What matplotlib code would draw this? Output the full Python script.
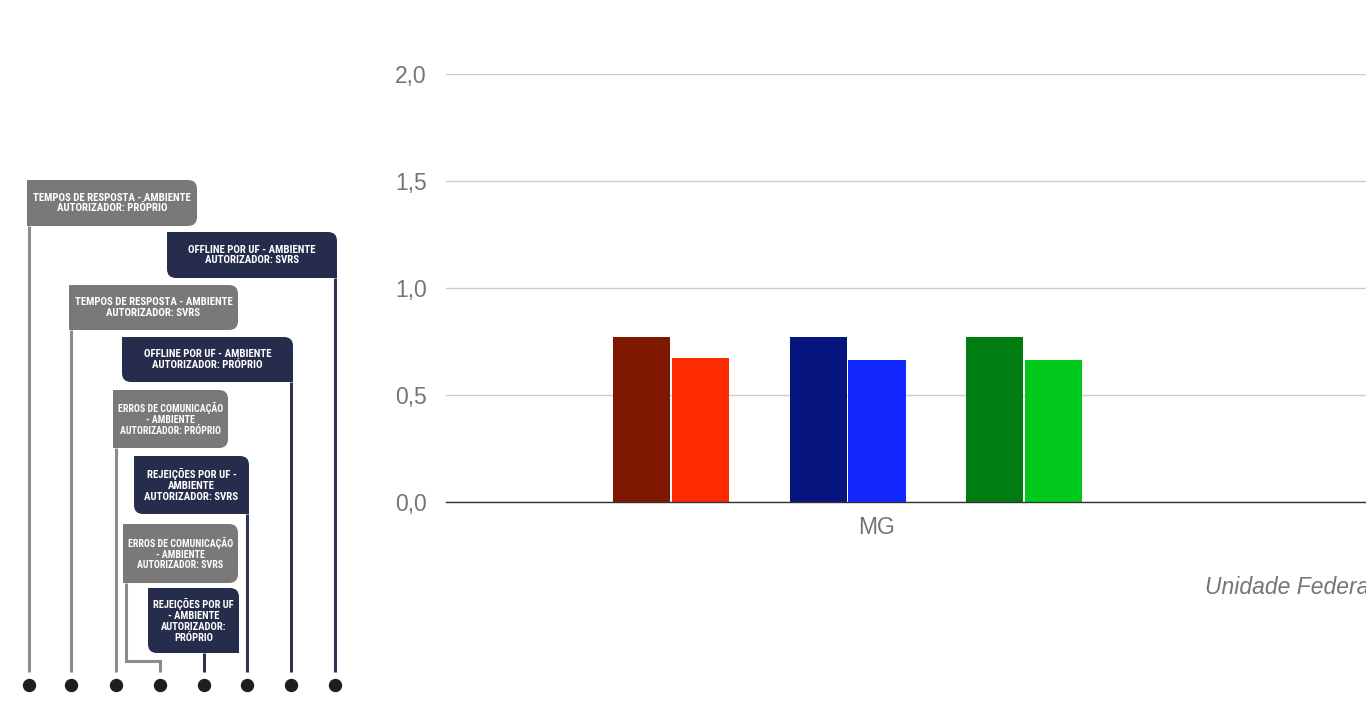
import matplotlib
matplotlib.use('Agg')
import matplotlib.pyplot as plt
from matplotlib.patches import FancyBboxPatch, Rectangle

# data
categories = ['MG']
bar_values = [0.77, 0.675, 0.77, 0.665, 0.77, 0.665]
bar_colors = ['#7f1800', '#ff2b00', '#06147e', '#1228ff', '#007d10', '#00c91b']
y_ticks = [0.0, 0.5, 1.0, 1.5, 2.0]
y_tick_labels = ['0,0', '0,5', '1,0', '1,5', '2,0']
x_title = 'Unidade Federativa'

legend_labels = [
    'TEMPOS DE RESPOSTA - AMBIENTE\nAUTORIZADOR: PRÓPRIO',
    'OFFLINE POR UF - AMBIENTE\nAUTORIZADOR: SVRS',
    'TEMPOS DE RESPOSTA - AMBIENTE\nAUTORIZADOR: SVRS',
    'OFFLINE POR UF - AMBIENTE\nAUTORIZADOR: PRÓPRIO',
    'ERROS DE COMUNICAÇÃO\n- AMBIENTE\nAUTORIZADOR: PRÓPRIO',
    'REJEIÇÕES POR UF -\nAMBIENTE\nAUTORIZADOR: SVRS',
    'ERROS DE COMUNICAÇÃO\n- AMBIENTE\nAUTORIZADOR: SVRS',
    'REJEIÇÕES POR UF\n- AMBIENTE\nAUTORIZADOR:\nPRÓPRIO',
]

# layout (pixels): box x0, x1, y0, y1, line x, dot x, kind
legend_layout = [
    (27, 197, 180, 226, 29, 29, 'g'),
    (167, 337, 232, 278, 335, 335, 'n'),
    (69, 238, 285, 330, 71, 71, 'g'),
    (122, 293, 337, 382, 291, 291, 'n'),
    (113, 228, 390, 448, 116, 116, 'g'),
    (134, 249, 456, 514, 247, 247, 'n'),
    (123, 238, 524, 583, 126, 160, 'g'),
    (148, 239, 588, 653, 204, 204, 'n'),
]
slots = [-4, -3, -1, 0, 2, 3]

W, H = 1366, 716
fig = plt.figure(figsize=(W / 100, H / 100), dpi=100)
gray_txt = '#757575'
fs = 16.5

# bar chart
ax = fig.add_axes([446 / W, (H - 502) / H, (W - 446) / W, 428 / H])
slot_px = 58.8
ax.set_xlim((446 - 877) / slot_px, (W - 877) / slot_px)
ax.set_ylim(0, 2.0)
for s, v, c in zip(slots, bar_values, bar_colors):
    ax.bar(s, v, width=0.97, color=c, zorder=3)
ax.set_yticks(y_ticks)
ax.set_yticklabels(y_tick_labels)
ax.set_xticks([0])
ax.set_xticklabels(categories)
ax.tick_params(axis='y', length=0, pad=13.7, labelsize=fs, labelcolor=gray_txt)
ax.tick_params(axis='x', length=0, pad=10, labelsize=fs, labelcolor=gray_txt)
for t in ax.get_yticklabels() + ax.get_xticklabels():
    t.set_family('Liberation Sans')
ax.grid(axis='y', color='#cccccc', lw=1, zorder=0)
for sp in ['top', 'right', 'left']:
    ax.spines[sp].set_visible(False)
ax.spines['bottom'].set_color('#333333')
ax.spines['bottom'].set_linewidth(1)
ax.spines['bottom'].set_zorder(4)
fig.text(1205 / W, 1 - 587 / H, x_title, fontsize=fs, style='italic',
         color=gray_txt, family='Liberation Sans', va='center', ha='left')

# legend panel in pixel coords
lx = fig.add_axes([0, 0, 1, 1], zorder=5)
lx.set_xlim(0, W)
lx.set_ylim(H, 0)
lx.axis('off')

box_col = {'g': '#797979', 'n': '#262c4b'}
line_col = {'g': '#8c8c8c', 'n': '#2c3252'}
dot_y, line_end = 685, 672
r = 9
lfs = 7.8
texts = []
for lab, (x0, x1, y0, y1, lxp, dx, k) in zip(legend_labels, legend_layout):
    lx.add_patch(FancyBboxPatch((x0 + r, y0 + r), x1 - x0 - 2 * r, y1 - y0 - 2 * r,
                                boxstyle='round,pad=%d' % r, fc=box_col[k], ec='none'))
    # square corners
    if k == 'g':
        sq = [(x0, y0), (x0, y1 - r)]
    else:
        sq = [(x0, y0), (x1 - r, y1 - r)]
    for sx, sy in sq:
        lx.add_patch(Rectangle((sx, sy), r, r, fc=box_col[k], ec='none'))
    if dx == lxp:
        lx.plot([lxp, lxp], [y1, line_end], color=line_col[k], lw=2.2, solid_capstyle='butt')
    else:
        lx.plot([lxp, lxp, dx, dx], [y1, 661, 661, line_end], color=line_col[k], lw=2.2,
                solid_joinstyle='miter', solid_capstyle='butt')
    lx.plot(dx, dot_y, 'o', color='#1e1e1e', ms=8.6)
    t = lx.text((x0 + x1) / 2, (y0 + y1) / 2, lab, color='white', fontsize=lfs,
                fontweight='bold', ha='center', va='center', linespacing=1.1,
                family=['Roboto Condensed', 'Noto Sans CJK SC', 'DejaVu Sans'])
    texts.append((t, x1 - x0 - 10))

# shrink text to fit boxes horizontally if needed
fig.canvas.draw()
ren = fig.canvas.get_renderer()
for t, maxw in texts:
    bb = t.get_window_extent(ren)
    if bb.width > maxw:
        t.set_fontsize(lfs * maxw / bb.width)

fig.savefig('out.png', dpi=100)
